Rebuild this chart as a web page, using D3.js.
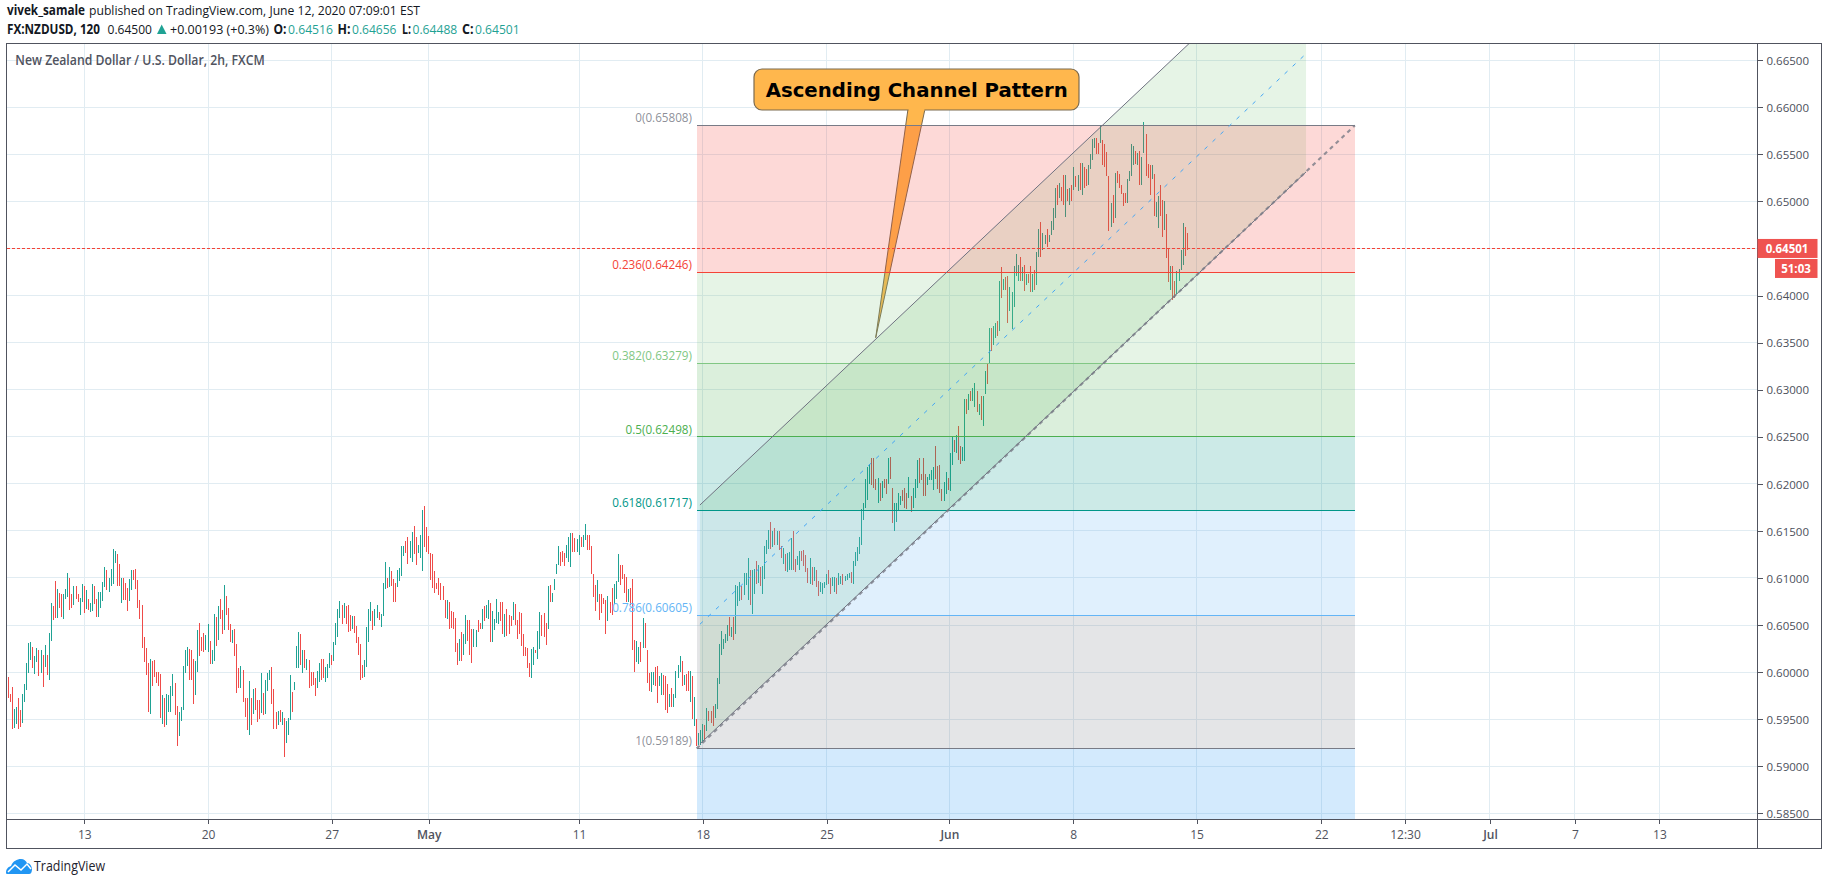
<!DOCTYPE html>
<html><head><meta charset="utf-8">
<style>html,body{margin:0;background:#fff}svg{display:block}</style>
<script src="https://cdnjs.cloudflare.com/ajax/libs/d3/7.8.5/d3.min.js"></script>
</head><body><div id="c"></div>
<script>
// values: bar highs and lows in price x 10000
const highs=[
5995,5977,5984,5961,5963,5973,5960,5977,5987,6010,
6031,6032,6027,6017,6026,6024,6023,6018,6029,6018,
6042,6073,6070,6097,6088,6084,6083,6083,6088,6105,
6100,6083,6092,6092,6083,6079,6094,6092,6087,6078,
6073,6094,6092,6078,6085,6085,6096,6112,6108,6100,
6110,6131,6129,6125,6115,6100,6100,6095,6089,6099,
6108,6109,6110,6098,6077,6071,6037,6026,6010,6014,
6012,6013,6000,6000,5998,5976,5973,5977,5976,5985,
5998,5988,5964,5958,5963,6007,6024,6027,6025,6024,
6014,6012,6045,6052,6037,6042,6039,6051,6033,6024,
6062,6059,6070,6078,6066,6093,6081,6068,6051,6045,
6046,6030,6004,6007,6002,5973,5973,5991,5972,5982,
5983,5970,5970,5999,5978,5992,5999,6002,6005,5982,
5958,5959,5960,5958,5951,5948,5951,5997,5979,5989,
6028,6043,6040,6024,6024,6014,6013,6000,6000,5994,
6001,6010,6014,6014,6005,6009,6020,6018,6032,6052,
6067,6076,6071,6073,6070,6071,6061,6060,6060,6049,
6037,6030,6008,6013,6048,6067,6074,6065,6067,6071,
6064,6062,6095,6117,6100,6112,6107,6099,6095,6108,
6111,6134,6134,6139,6144,6139,6149,6155,6144,6135,
6146,6172,6177,6154,6145,6127,6126,6107,6095,6100,
6095,6092,6077,6077,6075,6065,6064,6057,6031,6035,
6043,6041,6061,6055,6055,6046,6046,6045,6055,6052,
6067,6070,6071,6077,6073,6065,6056,6078,6064,6075,
6074,6062,6067,6061,6060,6074,6072,6055,6064,6063,
6041,6027,6026,6010,6025,6027,6024,6044,6064,6061,
6063,6052,6092,6093,6084,6099,6115,6134,6128,6129,
6127,6135,6144,6148,6148,6143,6141,6146,6144,6146,
6157,6146,6146,6134,6104,6093,6098,6083,6083,6079,
6077,6081,6074,6089,6094,6097,6125,6114,6114,6104,
6101,6088,6089,6099,6034,6033,6027,6032,6057,6052,
6023,5999,6000,6000,6005,6006,5996,5999,5997,5996,
5987,5977,5983,5977,6001,6008,6017,6012,5997,5998,
6001,6001,5996,5974,5950,5935,5939,5945,5944,5962,
5959,5959,5964,5966,5994,6030,6044,6035,6041,6050,
6059,6048,6059,6093,6092,6096,6092,6105,6105,6121,
6109,6108,6110,6118,6114,6112,6113,6134,6140,6151,
6159,6150,6153,6150,6150,6134,6132,6125,6127,6128,
6143,6150,6120,6123,6129,6129,6130,6124,6111,6121,
6112,6112,6109,6097,6096,6095,6096,6104,6109,6100,
6101,6101,6100,6105,6102,6104,6102,6104,6105,6106,
6118,6128,6133,6144,6173,6180,6205,6218,6221,6228,
6228,6205,6206,6201,6203,6205,6205,6228,6229,6196,
6180,6180,6190,6187,6194,6196,6190,6207,6187,6196,
6205,6225,6228,6211,6228,6211,6207,6211,6215,6218,
6240,6219,6220,6195,6202,6213,6206,6233,6250,6247,
6252,6262,6240,6239,6290,6290,6296,6299,6302,6307,
6299,6285,6293,6293,6320,6327,6366,6366,6368,6371,
6373,6415,6430,6418,6420,6421,6409,6404,6431,6444,
6433,6441,6430,6432,6423,6423,6431,6423,6427,6446,
6471,6478,6467,6464,6471,6464,6479,6493,6514,6518,
6520,6515,6528,6528,6513,6514,6518,6537,6527,6528,
6541,6541,6537,6534,6539,6550,6566,6567,6567,6562,
6581,6565,6561,6553,6527,6498,6507,6530,6532,6529,
6518,6509,6509,6524,6532,6561,6559,6554,6552,6554,
6547,6584,6572,6540,6539,6539,6529,6499,6506,6517,
6502,6501,6487,6450,6431,6431,6416,6426,6428,6448,6477,6473,6466];
const lows=[
5972,5968,5940,5941,5945,5940,5942,5946,5968,5981,
5999,6013,6004,5998,6011,5996,5999,5984,6005,5997,
5992,6033,6055,6058,6058,6068,6059,6056,6078,6080,
6066,6068,6071,6078,6075,6061,6075,6063,6067,6066,
6064,6065,6072,6059,6059,6068,6076,6090,6087,6085,
6092,6094,6116,6092,6091,6073,6077,6077,6065,6076,
6087,6098,6088,6068,6056,6026,6011,5997,5958,5955,
5985,5995,5988,5985,5951,5945,5942,5944,5958,5958,
5975,5954,5922,5932,5948,5960,5999,6006,5992,5992,
5966,5976,6000,6017,6022,6021,6024,6021,6009,6009,
6012,6028,6034,6056,6041,6045,6061,6045,6032,6031,
6017,5978,5983,5983,5968,5952,5939,5933,5944,5956,
5960,5947,5950,5957,5954,5956,5980,5992,5966,5940,
5940,5944,5947,5944,5910,5925,5933,5949,5958,5981,
6004,6004,6008,5999,6004,6002,5983,5985,5986,5975,
5983,5989,5992,5994,5989,5994,6004,6008,6012,6029,
6037,6057,6051,6057,6051,6043,6044,6046,6042,6031,
6018,5992,5994,5995,6005,6032,6054,6045,6049,6058,
6055,6048,6060,6088,6089,6090,6092,6074,6075,6090,
6097,6102,6123,6127,6115,6121,6117,6126,6114,6127,
6121,6107,6133,6128,6126,6098,6089,6084,6088,6082,
6077,6077,6057,6056,6046,6047,6046,6021,6008,6012,
6012,6018,6030,6033,6018,6010,6027,6027,6043,6046,
6046,6054,6057,6056,6032,6032,6045,6052,6051,6054,
6041,6037,6038,6040,6049,6055,6050,6035,6041,6028,
6017,6017,6004,5995,5994,6008,6020,6014,6025,6038,
6037,6029,6046,6075,6075,6087,6104,6114,6113,6117,
6113,6121,6117,6112,6128,6128,6128,6124,6133,6133,
6140,6130,6130,6104,6080,6065,6074,6055,6063,6072,
6041,6054,6063,6061,6072,6078,6096,6093,6099,6084,
6075,6075,6071,6024,6000,6011,6009,6011,6026,6026,
5988,5980,5979,5986,5985,5967,5985,5976,5976,5960,
5957,5963,5963,5963,5973,5994,6000,5985,5986,5980,
5980,5968,5950,5943,5922,5923,5923,5925,5928,5937,
5948,5946,5943,5951,5961,5987,6018,6025,6031,6033,
6038,6037,6034,6041,6070,6076,6077,6082,6093,6077,
6071,6062,6083,6094,6095,6091,6083,6099,6126,6131,
6131,6133,6135,6135,6130,6121,6115,6107,6106,6109,
6108,6109,6106,6114,6108,6118,6113,6106,6095,6094,
6093,6097,6090,6081,6085,6083,6089,6093,6094,6083,
6091,6085,6083,6093,6094,6093,6097,6098,6100,6095,
6094,6113,6118,6126,6135,6162,6174,6183,6200,6199,
6196,6194,6180,6182,6185,6196,6189,6200,6205,6158,
6150,6160,6171,6178,6182,6174,6173,6185,6170,6174,
6185,6196,6201,6204,6187,6187,6199,6204,6204,6194,
6205,6195,6190,6182,6182,6189,6193,6192,6220,6234,
6233,6225,6221,6224,6224,6274,6279,6288,6288,6282,
6276,6273,6268,6262,6296,6306,6328,6341,6348,6355,
6357,6362,6397,6406,6406,6371,6384,6365,6388,6421,
6416,6415,6416,6405,6411,6413,6404,6404,6406,6411,
6441,6441,6448,6455,6452,6457,6464,6470,6482,6496,
6504,6500,6496,6484,6500,6496,6500,6512,6515,6511,
6512,6507,6514,6516,6518,6534,6544,6557,6550,6550,
6562,6539,6537,6527,6469,6473,6477,6482,6520,6514,
6508,6495,6498,6498,6522,6527,6539,6540,6539,6518,
6517,6551,6527,6525,6507,6524,6485,6483,6472,6485,
6462,6470,6440,6414,6406,6395,6397,6402,6416,6427,6432,6442,6448];
// U = close above open, d = close below open
const dirs=[
"dddUUddUUU","UUdUUdUdUd","UUddUddUUU","ddUddUUdUd","UUddUUUUdU","UUUddUdddU",
"UddddddddU","dddddUdUUU","UddUUUUUdd","dUUdddUUdU","UdUddUdddU","dddUdddUdU",
"dddUdUUUdd","dUdUdUUUdU","UUdUdUdddd","UUddUUUdUU","UUdUdddUdd","dddUUUUdUU",
"dUUUdUdddU","UUUddUUddU","UUdddddddd","dddUdddddU","dUUdddUUdd","UdUUdUUUUd",
"dUdddUdddd","ddddUUdUUd","ddUdUUUUdd","dUUUddUUdU","UdddddUddd","dUddUUUddd",
"dUdddUUdUd","ddUUddUUdd","dUdUUUUdUd","dUdUdUUUdU","dddUUUUUUU","dUdUUUdUUU",
"dUUdUdUUUU","dUdUddUdUU","UddUUddddU","dUddUUUUdd","UUdUUdUUUd","UUUUUUUUUd",
"ddUdUddUdd","UUUUdddUdU","UUddddUUUU","ddddUUdUUd","UddUUdUdUU","dUdUUdUdUU",
"dUdUddUUUU","UdUdUddUdU","UdUUdUUUUd","UddUdUdUdU","dUddUUUUdd","UddddUdUdd",
"dddUUUUdUd","UUdddUdUUd","dUddUddUUUUdd"].join("").split("").map(c=>c==="U");
const priceTicks=[0.585,0.59,0.595,0.6,0.605,0.61,0.615,0.62,0.625,0.63,0.635,0.64,0.645,0.65,0.655,0.66,0.665];
const timeLabels=["13","20","27","May","11","18","25","Jun","8","15","22","12:30","Jul","7","13"];
const timeBars=[0,60,120,167,240,300,360,419.6,479.6,539.5,600,640.6,681.8,723,764];
const monthLabels=["May","Jun","Jul"];
const firstBar=-37;
const fibLevels=[0,0.236,0.382,0.5,0.618,0.786,1];
const fibPrices=[0.65808,0.64246,0.63279,0.62498,0.61717,0.60605,0.59189];
const fibColors=["#787b86","#f44336","#81c784","#4caf50","#009688","#64b5f6","#787b86"];
const bandColors=["#f44336","#81c784","#4caf50","#009688","#64b5f6","#787b86","#2196f3"];
const fibBars=[297,616.3];
const channelBars=[298.6,592.6];
const channelLower=[0.59237,0.65314];
const channelUpper=[0.61775,0.6785];
const channelMid=[0.60508,0.6657];
const lastPrice=0.64501;
const calloutPrice=0.63552;

const W=1828,H=885;
const plot={l:6.5,r:1757.5,t:43.5,b:819.5};
const x=d3.scaleLinear().domain([0,600]).range([84.3,1321.3]);
const y=d3.scaleLinear().domain([0.585,0.665]).range([813.3,60.3]);
const svg=d3.select("#c").append("svg").attr("width",W).attr("height",H).attr("viewBox",[0,0,W,H]);
const sans="'Open Sans',sans-serif", dj="'DejaVu Sans',sans-serif";
const GREEN="#1fa294",RED="#ef4b49",FRAME="#50535e";
svg.append("defs").append("clipPath").attr("id","pl").append("rect")
  .attr("x",plot.l).attr("y",plot.t).attr("width",plot.r-plot.l).attr("height",plot.b-plot.t);
const crisp=v=>Math.round(v-.5)+.5;

// grid
const grid=svg.append("g").attr("stroke","#e1ecf2").attr("shape-rendering","crispEdges");
grid.selectAll(".h").data(priceTicks).join("line").attr("x1",plot.l).attr("x2",plot.r)
  .attr("y1",d=>crisp(y(d))).attr("y2",d=>crisp(y(d)));
grid.selectAll(".v").data(timeBars).join("line").attr("y1",plot.t).attr("y2",plot.b)
  .attr("x1",d=>crisp(x(d))).attr("x2",d=>crisp(x(d)));

const p=svg.append("g").attr("clip-path","url(#pl)");
// bars
p.append("g").attr("shape-rendering","crispEdges").selectAll("line").data(highs).join("line")
  .attr("x1",(d,i)=>crisp(x(firstBar+i))).attr("x2",(d,i)=>crisp(x(firstBar+i)))
  .attr("y1",d=>y(d/10000)).attr("y2",(d,i)=>y(lows[i]/10000))
  .attr("stroke",(d,i)=>dirs[i]?GREEN:RED);
// callout
const cx0=754,cx1=1079,cy0=69,cy1=110;
const co=p.append("g");
const tail=[[908,cy1-1],[875.7,y(calloutPrice)],[925,cy1-1]];
co.append("path").attr("d",d3.line()(tail)).attr("fill","#ffb74d").attr("stroke","#7b6a4f").attr("stroke-width",1);
co.append("rect").attr("x",cx0).attr("y",cy0).attr("width",cx1-cx0).attr("height",cy1-cy0).attr("rx",8)
  .attr("fill","#ffb74d").attr("stroke","#7b6a4f").attr("stroke-width",1.2);
co.append("rect").attr("x",908.6).attr("y",cy1-2).attr("width",15.8).attr("height",3).attr("fill","#ffb74d");
co.append("text").attr("x",765.7).attr("y",96.5).attr("font-family",dj).attr("font-weight",700)
  .attr("font-size",20).attr("textLength",302).attr("lengthAdjust","spacingAndGlyphs").attr("fill","#000").text("Ascending Channel Pattern");

// channel fill, below the fib bands
const cx=channelBars.map(x);
p.append("path").attr("d",d3.line()([[cx[0],y(channelUpper[0])],[cx[1],y(channelUpper[1])],[cx[1],y(channelLower[1])],[cx[0],y(channelLower[0])]]))
  .attr("fill","#4caf50").attr("fill-opacity",.14);
// fib bands
const fx0=x(fibBars[0]),fx1=x(fibBars[1]);
const bandEdges=[...fibPrices,0.5];
p.append("g").selectAll("rect").data(bandColors).join("rect")
  .attr("x",fx0).attr("width",fx1-fx0).attr("y",(d,i)=>y(bandEdges[i]))
  .attr("height",(d,i)=>y(bandEdges[i+1])-y(bandEdges[i]))
  .attr("fill",d=>d).attr("fill-opacity",.2).attr("shape-rendering","crispEdges");
// dotted last-price line
p.append("line").attr("x1",plot.l).attr("x2",plot.r).attr("y1",crisp(y(lastPrice))).attr("y2",crisp(y(lastPrice)))
  .attr("stroke","#f44336").attr("stroke-dasharray","3 2").attr("shape-rendering","crispEdges");
// fib lines
p.append("g").attr("shape-rendering","crispEdges").selectAll("line").data(fibPrices).join("line")
  .attr("x1",fx0).attr("x2",fx1).attr("y1",d=>crisp(y(d))).attr("y2",d=>crisp(y(d)))
  .attr("stroke",(d,i)=>fibColors[i]);
// channel lines
const seg=(v,o)=>p.append("line").attr("x1",cx[0]).attr("x2",cx[1]).attr("y1",y(v[0])).attr("y2",y(v[1])).attr("stroke",o.c)
  .attr("stroke-width",o.w||1).attr("stroke-dasharray",o.d||null);
seg(channelUpper,{c:"#6f7280"});
seg(channelLower,{c:"#6f7280"});
seg(channelMid,{c:"#42a5f5",w:1,d:"4 7"});
// fib trend line, dashed, start to end
p.append("line").attr("x1",fx0).attr("x2",fx1).attr("y1",y(fibPrices[6])).attr("y2",y(fibPrices[0]))
  .attr("stroke","#787b86").attr("stroke-width",2.2).attr("stroke-dasharray","4 4").attr("stroke-opacity",.8);
// fib labels
svg.append("g").attr("font-family",sans).attr("font-size",11.7).attr("text-anchor","end")
  .selectAll("text").data(fibPrices).join("text").attr("x",692).attr("y",d=>y(d)-3)
  .attr("fill",(d,i)=>fibColors[i]).attr("fill-opacity",(d,i)=>(i===0||i===6)?.85:1)
  .text((d,i)=>`${fibLevels[i]}(${d.toFixed(5)})`);

// frame
const fr=svg.append("g").attr("stroke",FRAME).attr("fill","none").attr("shape-rendering","crispEdges");
fr.append("rect").attr("x",plot.l).attr("y",plot.t).attr("width",1821-plot.l).attr("height",848.5-plot.t);
fr.append("line").attr("x1",plot.l).attr("x2",1821).attr("y1",plot.b).attr("y2",plot.b);
fr.append("line").attr("x1",plot.r).attr("x2",plot.r).attr("y1",plot.t).attr("y2",848.5);
// price axis
const ya=svg.append("g").attr("transform",`translate(${plot.r},0)`)
  .call(d3.axisRight(y).tickValues(priceTicks).tickFormat(d3.format(".5f")).tickSize(5).tickSizeOuter(0));
ya.select(".domain").remove();
ya.selectAll("line").attr("stroke",FRAME).attr("shape-rendering","crispEdges");
ya.selectAll("text").attr("font-family",sans).attr("font-size",11.5).attr("fill","#4c505b").attr("x",9).attr("dy",".36em");
// time axis
const xa=svg.append("g").attr("transform",`translate(0,${plot.b})`)
  .call(d3.axisBottom(x).tickValues(timeBars).tickFormat((d,i)=>timeLabels[i]).tickSize(4).tickSizeOuter(0));
xa.select(".domain").remove();
xa.selectAll("line").attr("stroke",FRAME).attr("shape-rendering","crispEdges");
xa.selectAll("text").attr("font-family",sans).attr("font-size",12).attr("fill","#50535e").attr("y",10.5).attr("dy",".71em")
  .attr("font-weight",(d,i)=>monthLabels.includes(timeLabels[i])?600:400);

// badges
const by=y(lastPrice);
svg.append("rect").attr("x",plot.r).attr("y",by-9.5).attr("width",60).attr("height",19).attr("fill","#ef5350");
svg.append("text").attr("x",1787).attr("y",by+4.2).attr("text-anchor","middle").attr("font-family",sans).attr("font-size",11.5).attr("font-weight",700).attr("fill","#fff").text(lastPrice.toFixed(5));
svg.append("rect").attr("x",1775).attr("y",by+10.5).attr("width",42.5).attr("height",19).attr("fill","#ef5350");
svg.append("text").attr("x",1796).attr("y",by+24.2).attr("text-anchor","middle").attr("font-family",sans).attr("font-size",11.5).attr("font-weight",700).attr("fill","#fff").text("51:03");

// header text
const put=(x0,x1,yy,t,o={})=>svg.append("text").attr("x",x0).attr("y",yy).attr("font-family",sans).attr("font-size",o.s||13.5)
  .attr("font-weight",o.w||400).attr("fill",o.c||"#131722").attr("textLength",x1-x0).attr("lengthAdjust","spacingAndGlyphs").text(t);
put(7,85,15,"vivek_samale",{w:700});
put(89,420,15,"published on TradingView.com, June 12, 2020 07:09:01 EST");
put(7,100,34,"FX:NZDUSD, 120",{w:700});
put(107.5,152,34,"0.64500");
svg.append("path").attr("d",d3.line()([[157,34],[166.5,34],[161.7,24.5]])).attr("fill",GREEN);
put(170,269,34,"+0.00193 (+0.3%)");
put(273.5,286.5,34,"O:",{w:700}); put(288,333,34,"0.64516",{c:GREEN});
put(337.5,350.5,34,"H:",{w:700}); put(352,396.5,34,"0.64656",{c:GREEN});
put(402,411,34,"L:",{w:700}); put(412.5,457.3,34,"0.64488",{c:GREEN});
put(462,473.5,34,"C:",{w:700}); put(475,519.7,34,"0.64501",{c:GREEN});
put(15.3,264.8,64.5,"New Zealand Dollar / U.S. Dollar, 2h, FXCM",{w:600,c:"#50535e"});
put(34,105,871,"TradingView",{s:14,c:"#1e222d"});

// logo
const lg=svg.append("g").attr("transform","translate(6,858)");
lg.append("path").attr("d","M0 15 C0 11 2 9 5 8 C7 3 11 1 15 1 C18 1 20 3 21 5 C25 5 26 10 26 11 C26 14 25 16 23 16 L3 16 C1 16 0 16 0 15 Z").attr("fill","#2196f3");
lg.append("path").attr("d","M2 14 L9 7 L15 12 L21 6 L25 11").attr("fill","none").attr("stroke","#fff").attr("stroke-width",1.5);
</script></body></html>
